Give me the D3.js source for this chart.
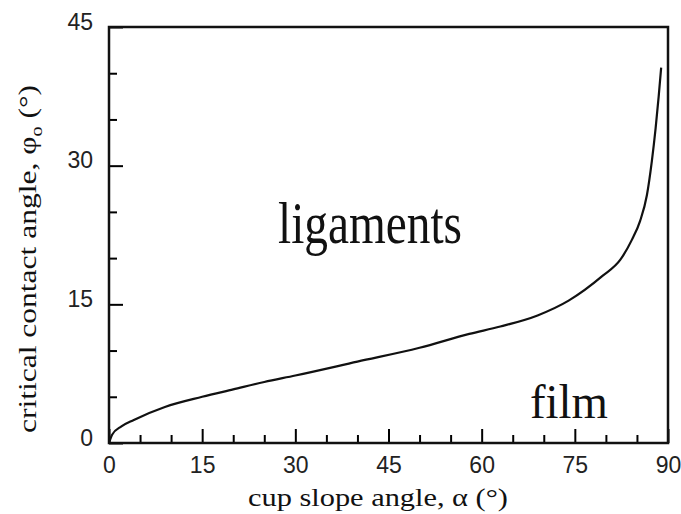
<!DOCTYPE html>
<html>
<head>
<meta charset="utf-8">
<script src="https://cdn.jsdelivr.net/npm/d3@7"></script>
<style>
  body { margin: 0; background: #fff; }
  svg { display: block; }
</style>
</head>
<body>
<svg id="chart" width="681" height="514"></svg>
<script>
// cup slope angle alpha (deg) -> critical contact angle phi_o (deg)
let alpha = [0, 0.5, 2, 4, 9, 15, 20, 25, 30, 40, 50, 58, 63, 69, 74, 79.5, 82.3, 84.2, 85.5, 86.6, 87.4, 88.0, 88.5, 88.9];
let phi   = [0, 0.9, 1.8, 2.5, 3.9, 5.0, 5.8, 6.6, 7.3, 8.8, 10.3, 11.8, 12.6, 13.8, 15.4, 18.1, 19.8, 22.0, 24.0, 26.8, 30.5, 34.0, 37.5, 40.6];

let xTicks = [0, 15, 30, 45, 60, 75, 90];
let yTicks = [0, 15, 30, 45];
let minorStep = 5;

let svg = d3.select("#chart");

// plot frame in pixels
let plotLeft = 109, plotRight = 668, plotTop = 27, plotBottom = 443;

let x = d3.scaleLinear().domain([0, 90]).range([plotLeft, plotRight]);
let y = d3.scaleLinear().domain([0, 45]).range([plotBottom, plotTop]);

let tickFont = "'Liberation Sans', Arial, sans-serif";
let titleFont = "'Liberation Serif', 'Times New Roman', serif";

// minor ticks (every 5 deg)
let minorX = d3.range(0, 91, minorStep).filter(function (d) { return xTicks.indexOf(d) < 0; });
let minorY = d3.range(0, 46, minorStep).filter(function (d) { return yTicks.indexOf(d) < 0; });

svg.append("g")
    .attr("transform", "translate(0," + plotBottom + ")")
    .call(d3.axisBottom(x).tickValues(minorX).tickSize(-8).tickFormat(""))
    .call(function (g) { g.select(".domain").remove(); })
    .selectAll("line").attr("stroke-width", 2);

svg.append("g")
    .attr("transform", "translate(" + plotLeft + ",0)")
    .call(d3.axisLeft(y).tickValues(minorY).tickSize(-8).tickFormat(""))
    .call(function (g) { g.select(".domain").remove(); })
    .selectAll("line").attr("stroke-width", 2);

// major ticks with labels
let xAxis = svg.append("g")
    .attr("transform", "translate(0," + plotBottom + ")")
    .call(d3.axisBottom(x).tickValues(xTicks).tickSize(-14).tickPadding(14))
    .call(function (g) { g.select(".domain").remove(); });
xAxis.selectAll("line").attr("stroke-width", 2);
xAxis.selectAll("text")
    .attr("font-family", tickFont)
    .attr("font-size", 23)
    .attr("fill", "#222");

let yAxis = svg.append("g")
    .attr("transform", "translate(" + plotLeft + ",0)")
    .call(d3.axisLeft(y).tickValues(yTicks).tickSize(-14).tickPadding(16))
    .call(function (g) { g.select(".domain").remove(); });
yAxis.selectAll("line").attr("stroke-width", 2);
yAxis.selectAll("text")
    .attr("font-family", tickFont)
    .attr("font-size", 23)
    .attr("dy", "0.1em")
    .attr("fill", "#222");

// frame
svg.append("rect")
    .attr("x", plotLeft)
    .attr("y", plotTop)
    .attr("width", plotRight - plotLeft)
    .attr("height", plotBottom - plotTop)
    .attr("fill", "none")
    .attr("stroke", "#111")
    .attr("stroke-width", 2.5);

// curve
let line = d3.line()
    .x(function (d) { return x(d[0]); })
    .y(function (d) { return y(d[1]); })
    .curve(d3.curveMonotoneX);

svg.append("path")
    .datum(d3.zip(alpha, phi))
    .attr("d", line)
    .attr("fill", "none")
    .attr("stroke", "#111")
    .attr("stroke-width", 2.2);

// region labels
svg.append("text")
    .attr("x", 278)
    .attr("y", 243)
    .attr("font-family", "'Liberation Serif', 'Times New Roman', serif")
    .attr("font-size", 60)
    .attr("textLength", 184)
    .attr("lengthAdjust", "spacingAndGlyphs")
    .attr("fill", "#111")
    .text("ligaments");

svg.append("text")
    .attr("x", 530)
    .attr("y", 418)
    .attr("font-family", "'Liberation Serif', 'Times New Roman', serif")
    .attr("font-size", 48)
    .attr("textLength", 78)
    .attr("lengthAdjust", "spacingAndGlyphs")
    .attr("fill", "#111")
    .text("film");

// axis titles
svg.append("text")
    .attr("x", 248)
    .attr("y", 506)
    .attr("font-family", titleFont)
    .attr("font-size", 25)
    .attr("textLength", 260)
    .attr("lengthAdjust", "spacingAndGlyphs")
    .attr("fill", "#111")
    .text("cup slope angle, \u03b1 (\u00b0)");

let yt = svg.append("text")
    .attr("transform", "translate(36,433) rotate(-90)")
    .attr("x", 0)
    .attr("y", 0)
    .attr("font-family", titleFont)
    .attr("font-size", 25)
    .attr("textLength", 348)
    .attr("lengthAdjust", "spacingAndGlyphs")
    .attr("fill", "#111");
yt.append("tspan").text("critical contact angle, \u03c6");
yt.append("tspan").attr("dy", 6).attr("font-size", 16).text("o");
yt.append("tspan").attr("dy", -6).text(" (\u00b0)");
</script>
</body>
</html>
